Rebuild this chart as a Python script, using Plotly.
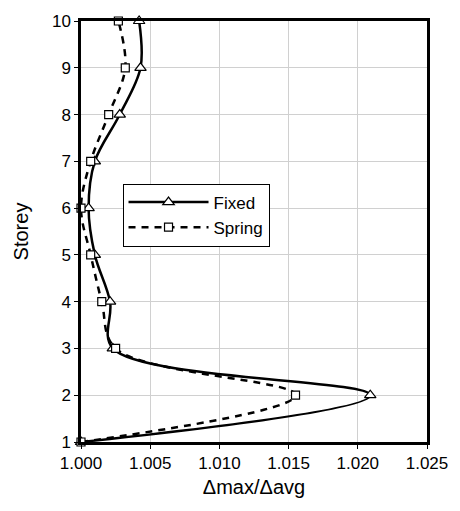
import plotly.graph_objects as go

storey = [1, 2, 3, 4, 5, 6, 7, 8, 9, 10]
fixed = [1.0000, 1.0209, 1.0023, 1.0021, 1.0010, 1.00055, 1.0010, 1.0028, 1.0043, 1.0042]
spring = [1.0000, 1.0155, 1.0025, 1.0015, 1.0007, 1.0000, 1.0007, 1.0020, 1.0032, 1.0027]

fig = go.Figure()
fig.add_trace(go.Scatter(
    x=fixed, y=storey, name="Fixed", mode="lines+markers",
    line=dict(color="black", width=2.5, shape="spline", smoothing=1),
    marker=dict(symbol="triangle-up", size=10, color="white", line=dict(color="black", width=1.2)),
    cliponaxis=False,
))
fig.add_trace(go.Scatter(
    x=spring, y=storey, name="Spring", mode="lines+markers",
    line=dict(color="black", width=2.5, shape="spline", smoothing=1, dash="7px,6px"),
    marker=dict(symbol="square", size=8, color="white", line=dict(color="black", width=1.2)),
    cliponaxis=False,
))

font = "Liberation Sans, Arial, sans-serif"
fig.update_layout(
    width=460, height=511,
    margin=dict(l=81, r=29, t=20, b=69),
    paper_bgcolor="white", plot_bgcolor="white",
    font=dict(family=font, size=17, color="black"),
    showlegend=True,
    legend=dict(x=0.12, y=0.614, xanchor="left", yanchor="top",
                bgcolor="white", bordercolor="black", borderwidth=1,
                font=dict(size=17), tracegroupgap=0, itemwidth=80),
    xaxis=dict(range=[1.0, 1.025], dtick=0.005, tickformat=".3f",
               showgrid=True, gridcolor="#d0d0d0", gridwidth=1,
               showline=True, linecolor="black", linewidth=2.5, mirror=True,
               ticks="outside", ticklen=4, tickcolor="black", zeroline=False,
               title=dict(text="Δmax/Δavg", standoff=8)),
    yaxis=dict(range=[1, 10], dtick=1,
               showgrid=True, gridcolor="#d0d0d0", gridwidth=1,
               showline=True, linecolor="black", linewidth=2.5, mirror=True,
               ticks="outside", ticklen=4, tickcolor="black", zeroline=False,
               title=dict(text="Storey", standoff=18)),
)
fig.write_html("out.html")
